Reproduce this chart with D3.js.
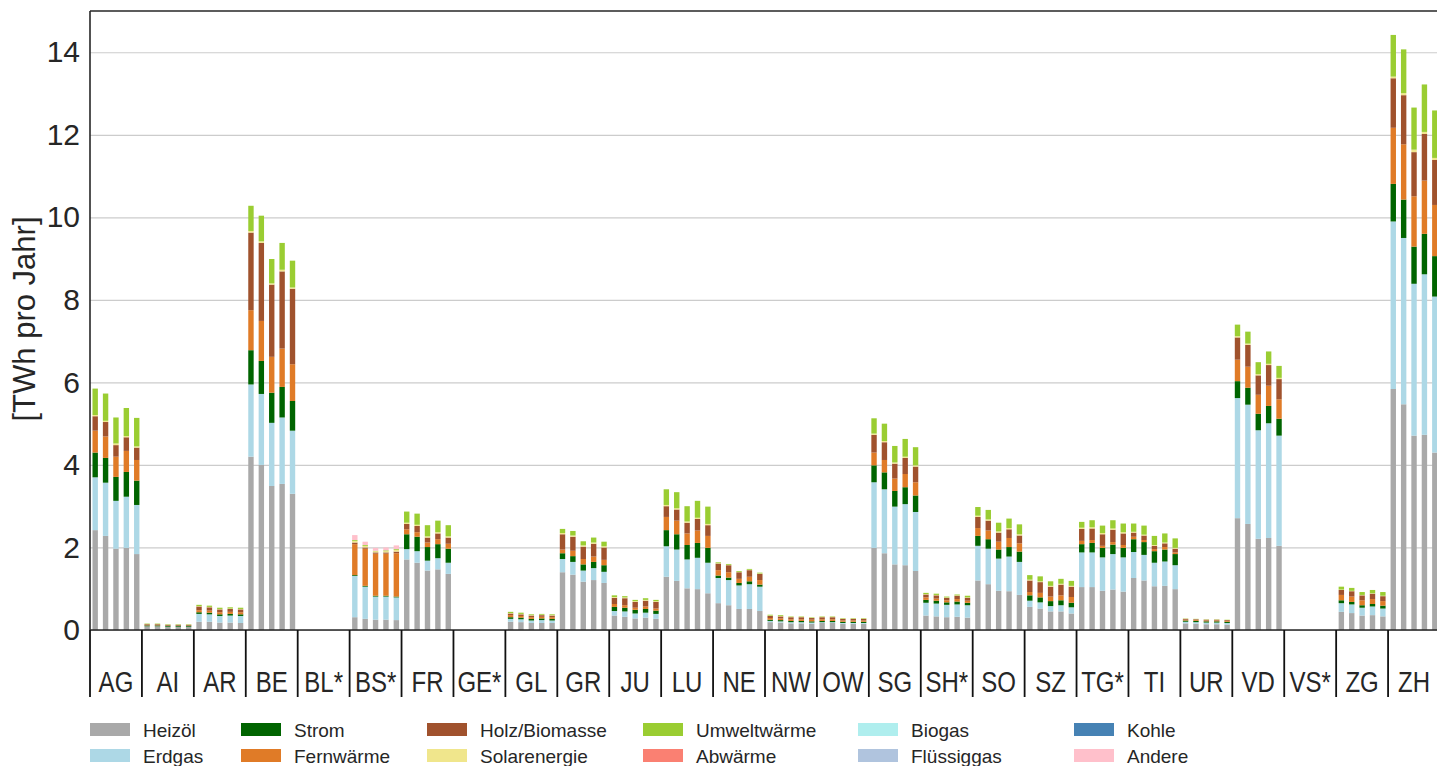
<!DOCTYPE html>
<html>
<head>
<meta charset="utf-8">
<script src="https://cdn.jsdelivr.net/npm/d3@7"></script>
<style>
  body { margin: 0; background: #fff; }
  svg { display: block; }
  text { font-family: "Liberation Sans", Arial, Helvetica, sans-serif; fill: #262626; }
</style>
</head>
<body>
<svg id="chart" width="1437" height="766"></svg>
<script>
// Kantone (x-Achse) und Achsenbeschriftung
const kantone = ["AG","AI","AR","BE","BL*","BS*","FR","GE*","GL","GR","JU","LU","NE",
                 "NW","OW","SG","SH*","SO","SZ","TG*","TI","UR","VD","VS*","ZG","ZH"];
const yTicks = [0, 2, 4, 6, 8, 10, 12, 14];

// Wärmebedarf je Energieträger in TWh pro Jahr, fünf Werte je Kanton (null = keine Angaben)
const heizoel = [
  [2.42,2.28,1.97,1.99,1.84], [0.09,0.09,0.08,0.08,0.08], [0.20,0.20,0.18,0.18,0.17],
  [4.20,4.00,3.49,3.54,3.30], null, [0.31,0.27,0.25,0.25,0.24], [1.71,1.63,1.44,1.47,1.36],
  null, [0.20,0.19,0.17,0.17,0.17], [1.40,1.34,1.17,1.21,1.14], [0.35,0.32,0.28,0.30,0.27],
  [1.29,1.19,1.01,0.99,0.89], [0.65,0.60,0.51,0.51,0.46], [0.19,0.18,0.16,0.16,0.15],
  [0.17,0.17,0.15,0.15,0.15], [1.99,1.86,1.59,1.57,1.43], [0.35,0.33,0.31,0.32,0.30],
  [1.20,1.11,0.95,0.94,0.85], [0.56,0.52,0.45,0.45,0.40], [1.04,1.04,0.95,0.98,0.93],
  [1.26,1.20,1.06,1.07,0.99], [0.16,0.15,0.14,0.14,0.13], [2.71,2.57,2.21,2.23,2.04],
  null, [0.44,0.41,0.35,0.36,0.33], [5.84,5.47,4.71,4.73,4.30]
];
const erdgas = [
  [1.28,1.29,1.16,1.24,1.19], [0,0,0,0,0], [0.19,0.18,0.16,0.17,0.17],
  [1.75,1.72,1.53,1.61,1.53], null, [1.00,0.78,0.56,0.56,0.55], [0.25,0.28,0.24,0.27,0.27],
  null, [0.07,0.07,0.06,0.07,0.06], [0.32,0.31,0.27,0.29,0.27], [0.11,0.13,0.12,0.12,0.12],
  [0.74,0.76,0.70,0.76,0.74], [0.61,0.61,0.57,0.60,0.59], [0.03,0.03,0.03,0.03,0.03],
  [0.02,0.02,0.02,0.02,0.02], [1.59,1.55,1.40,1.48,1.43], [0.31,0.31,0.30,0.30,0.30],
  [0.84,0.86,0.78,0.84,0.80], [0.15,0.15,0.13,0.15,0.15], [0.84,0.84,0.81,0.86,0.83],
  [0.63,0.62,0.57,0.59,0.58], [0.04,0.04,0.04,0.04,0.04], [2.91,2.89,2.63,2.78,2.67],
  null, [0.21,0.21,0.19,0.21,0.19], [4.06,4.03,3.68,3.89,3.78]
];
const strom = [
  [0.60,0.60,0.58,0.60,0.59], [0.02,0.02,0.02,0.02,0.02], [0.04,0.04,0.04,0.04,0.04],
  [0.83,0.80,0.73,0.74,0.72], null, [0.02,0.02,0.02,0.02,0.02], [0.36,0.35,0.33,0.34,0.34],
  null, [0.04,0.04,0.04,0.04,0.04], [0.14,0.14,0.15,0.15,0.16], [0.10,0.09,0.09,0.09,0.08],
  [0.39,0.37,0.35,0.36,0.36], [0.06,0.06,0.06,0.07,0.05], [0.03,0.03,0.03,0.03,0.03],
  [0.03,0.03,0.03,0.03,0.03], [0.41,0.41,0.38,0.41,0.40], [0.07,0.07,0.06,0.07,0.06],
  [0.24,0.23,0.22,0.23,0.25], [0.13,0.12,0.12,0.12,0.11], [0.20,0.23,0.23,0.23,0.23],
  [0.31,0.31,0.28,0.29,0.27], [0.03,0.03,0.03,0.03,0.03], [0.41,0.41,0.40,0.42,0.41],
  null, [0.07,0.06,0.06,0.06,0.07], [0.91,0.93,0.90,0.98,0.98]
];
const fernwaerme = [
  [0.53,0.52,0.49,0.51,0.50], [0.005,0.005,0.005,0.005,0.005], [0.05,0.05,0.05,0.05,0.05],
  [0.97,0.97,0.87,0.93,0.89], null, [0.75,0.90,1.02,1.02,1.05], [0.12,0.11,0.11,0.12,0.12],
  null, [0.05,0.04,0.04,0.04,0.04], [0.09,0.13,0.13,0.13,0.13], [0.07,0.06,0.05,0.06,0.05],
  [0.32,0.33,0.28,0.30,0.29], [0.13,0.13,0.10,0.11,0.11], [0.04,0.04,0.04,0.04,0.04],
  [0.04,0.04,0.03,0.03,0.03], [0.31,0.30,0.30,0.32,0.32], [0.06,0.05,0.05,0.06,0.05],
  [0.19,0.21,0.19,0.22,0.20], [0.08,0.11,0.11,0.12,0.14], [0.08,0.07,0.05,0.06,0.07],
  [0.06,0.05,0.05,0.06,0.04], [0.02,0.02,0.02,0.02,0.02], [0.52,0.51,0.46,0.49,0.47],
  null, [0.13,0.13,0.12,0.12,0.11], [1.36,1.34,1.22,1.29,1.24]
];
const holzBiomasse = [
  [0.35,0.35,0.28,0.33,0.30], [0.025,0.025,0.02,0.02,0.02], [0.09,0.08,0.07,0.07,0.07],
  [1.88,1.89,1.75,1.87,1.83], null, [0.04,0.03,0.03,0.03,0.04], [0.13,0.15,0.12,0.14,0.15],
  null, [0.04,0.04,0.04,0.04,0.04], [0.37,0.34,0.30,0.31,0.30], [0.15,0.17,0.14,0.14,0.16],
  [0.26,0.27,0.26,0.28,0.26], [0.16,0.17,0.16,0.16,0.15], [0.05,0.05,0.05,0.05,0.04],
  [0.05,0.05,0.04,0.04,0.04], [0.43,0.43,0.36,0.39,0.38], [0.07,0.08,0.06,0.08,0.07],
  [0.27,0.24,0.22,0.21,0.19], [0.28,0.26,0.24,0.26,0.25], [0.29,0.28,0.28,0.30,0.28],
  [0.10,0.11,0.08,0.09,0.09], [0.02,0.02,0.02,0.02,0.02], [0.54,0.53,0.47,0.50,0.49],
  null, [0.12,0.13,0.12,0.13,0.12], [1.20,1.19,1.07,1.13,1.09]
];
const solarenergie = [
  [0.03,0.03,0.04,0.03,0.03], [0.005,0.005,0.005,0.005,0.005], [0.01,0.01,0.01,0.01,0.01],
  [0.04,0.04,0.03,0.04,0.03], null, [0.04,0.04,0.03,0.03,0.04], [0.03,0.03,0.03,0.03,0.03],
  null, [0.01,0.01,0.01,0.01,0.01], [0.03,0.03,0.03,0.03,0.03], [0.02,0.02,0.02,0.02,0.02],
  [0.03,0.03,0.03,0.03,0.03], [0.01,0.01,0.01,0.01,0.01], [0.01,0.01,0.01,0.01,0.01],
  [0.01,0.01,0.01,0.01,0.01], [0.03,0.03,0.03,0.03,0.03], [0.01,0.01,0.01,0.01,0.01],
  [0.03,0.03,0.03,0.03,0.03], [0.02,0.02,0.02,0.02,0.02], [0.03,0.03,0.03,0.03,0.03],
  [0.02,0.02,0.02,0.02,0.02], [0.005,0.005,0.005,0.005,0.005], [0.03,0.03,0.03,0.03,0.03],
  null, [0.01,0.01,0.01,0.01,0.01], [0.04,0.05,0.06,0.05,0.05]
];
const umweltwaerme = [
  [0.64,0.66,0.63,0.68,0.69], [0.01,0.01,0.01,0.01,0.01], [0.03,0.03,0.03,0.03,0.03],
  [0.61,0.62,0.59,0.65,0.65], null, [0.02,0.02,0.01,0.02,0.02], [0.27,0.27,0.27,0.28,0.27],
  null, [0.03,0.03,0.02,0.02,0.02], [0.10,0.11,0.10,0.12,0.11], [0.04,0.03,0.03,0.04,0.03],
  [0.38,0.39,0.37,0.41,0.42], [0.02,0.02,0.02,0.02,0.02], [0.02,0.02,0.01,0.01,0.01],
  [0.01,0.01,0.01,0.01,0.01], [0.37,0.42,0.40,0.43,0.44], [0.03,0.03,0.02,0.02,0.04],
  [0.21,0.23,0.21,0.23,0.24], [0.11,0.12,0.11,0.12,0.12], [0.14,0.17,0.18,0.20,0.21],
  [0.20,0.22,0.22,0.22,0.23], [0.005,0.005,0.005,0.005,0.005], [0.28,0.29,0.29,0.30,0.29],
  null, [0.07,0.07,0.07,0.08,0.09], [1.01,1.06,1.02,1.15,1.15]
];
// Energieträger ohne sichtbaren Anteil
const abwaerme = [];
const biogas = [];
const fluessiggas = [];
const kohle = [];
const andere = [
  null, null, null, null, null, [0.12,0.08,0.07,0.07,0.09], null, null, null, null, null, null, null,
  null, null, null, null, null, null, null, null, null, null, null, null, null
];

const serien = [
  { name: "Heizöl",        farbe: "#a9a9a9", werte: heizoel },
  { name: "Erdgas",        farbe: "#add8e6", werte: erdgas },
  { name: "Strom",         farbe: "#006400", werte: strom },
  { name: "Fernwärme",     farbe: "#e07b27", werte: fernwaerme },
  { name: "Holz/Biomasse", farbe: "#a0522d", werte: holzBiomasse },
  { name: "Solarenergie",  farbe: "#f0e68c", werte: solarenergie },
  { name: "Umweltwärme",   farbe: "#9acd32", werte: umweltwaerme },
  { name: "Abwärme",       farbe: "#fa8072", werte: abwaerme },
  { name: "Biogas",        farbe: "#afeeee", werte: biogas },
  { name: "Flüssiggas",    farbe: "#b0c4de", werte: fluessiggas },
  { name: "Kohle",         farbe: "#4682b4", werte: kohle },
  { name: "Andere",        farbe: "#ffc0cb", werte: andere }
];

const svg = d3.select("#chart");
const plot = { left: 90, right: 1440, top: 11, bottom: 630 };
const balken = d3.range(5);

const x = d3.scaleBand().domain(kantone).range([plot.left, plot.right]).paddingInner(0).paddingOuter(0);
const xi = d3.scaleBand().domain(balken).range([0, x.bandwidth()]).paddingInner(0.48).paddingOuter(0.24);
const y = d3.scaleLinear().domain([0, 15]).range([plot.bottom, plot.top]);

svg.append("rect").attr("width", 1437).attr("height", 766).attr("fill", "#fff");

// Gitterlinien
const grid = svg.append("g")
  .attr("transform", `translate(${plot.left},0)`)
  .call(d3.axisLeft(y).tickValues(yTicks).tickSize(-(plot.right - plot.left)).tickFormat(""));
grid.select(".domain").remove();
grid.selectAll("line").attr("stroke", "#cccccc").attr("stroke-width", 1.2);

// Gestapelte Balken
const zeilen = [];
kantone.forEach((k, ci) => {
  if (!heizoel[ci]) return;
  balken.forEach(j => {
    const z = { kanton: k, idx: j };
    serien.forEach(s => {
      const v = s.werte[ci];
      z[s.name] = v ? (v[j] || 0) : 0;
    });
    zeilen.push(z);
  });
});
const stapel = d3.stack().keys(serien.map(s => s.name))(zeilen);

svg.append("g").selectAll("g")
  .data(stapel)
  .join("g")
  .attr("fill", (d, i) => serien[i].farbe)
  .selectAll("rect")
  .data(d => d.filter(p => p[1] - p[0] > 0))
  .join("rect")
  .attr("x", p => x(p.data.kanton) + xi(p.data.idx))
  .attr("width", xi.bandwidth())
  .attr("y", p => y(p[1]))
  .attr("height", p => y(p[0]) - y(p[1]));

// Y-Achse
const yAxis = svg.append("g")
  .attr("transform", `translate(${plot.left},0)`)
  .call(d3.axisLeft(y).tickValues(yTicks).tickSize(0).tickPadding(10));
yAxis.select(".domain").remove();
yAxis.selectAll("text").style("font-size", "30px").attr("fill", "#262626");

// Rahmen
const rahmen = svg.append("g").attr("stroke", "#262626").attr("stroke-width", 1.6);
rahmen.append("line").attr("x1", plot.left).attr("x2", 1437).attr("y1", plot.top).attr("y2", plot.top);
rahmen.append("line").attr("x1", plot.left).attr("x2", 1437).attr("y1", plot.bottom).attr("y2", plot.bottom);
rahmen.append("line").attr("x1", plot.left).attr("x2", plot.left).attr("y1", plot.top).attr("y2", plot.bottom);

// Trennlinien zwischen den Kantonen
svg.append("g").attr("stroke", "#111").attr("stroke-width", 1.8)
  .selectAll("line")
  .data(kantone.map(k => x(k)).concat([plot.right]))
  .join("line")
  .attr("x1", d => d).attr("x2", d => d)
  .attr("y1", plot.bottom).attr("y2", 697);

// Kantonsbeschriftung (schmal laufende Schrift)
const xAxis = svg.append("g")
  .attr("transform", `translate(0,${plot.bottom})`)
  .call(d3.axisBottom(x).tickSize(0));
xAxis.select(".domain").remove();
xAxis.selectAll("text")
  .attr("y", 62).attr("dy", 0)
  .attr("transform", "scale(0.8,1)")
  .style("font-size", "30px").attr("fill", "#262626");

// Achsentitel
svg.append("text")
  .attr("transform", "translate(35,319) rotate(-90)")
  .attr("text-anchor", "middle")
  .style("font-size", "31px")
  .text("[TWh pro Jahr]");

// Legende (spaltenweise, zwei Zeilen)
const spaltenX = [90, 241, 427, 643, 858, 1074];
const zeilenY = [723, 749];
const legende = svg.append("g").selectAll("g")
  .data(serien)
  .join("g")
  .attr("transform", (d, i) => `translate(${spaltenX[Math.floor(i / 2)]},${zeilenY[i % 2]})`);
legende.append("rect").attr("width", 40).attr("height", 13).attr("fill", d => d.farbe);
legende.append("text")
  .attr("x", 53).attr("y", 13.5)
  .style("font-size", "19px")
  .text(d => d.name);
</script>
</body>
</html>
